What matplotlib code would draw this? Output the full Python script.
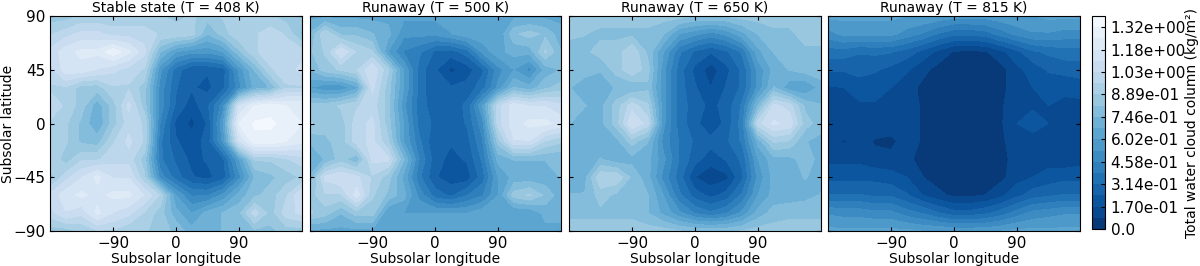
import numpy as np
import matplotlib
matplotlib.use("Agg")
from matplotlib import pyplot as plt

lon = [-180, -157.5, -135, -112.5, -90, -67.5, -45, -22.5, 0, 22.5, 45, 67.5, 90, 112.5, 135, 157.5, 180]
lat = [90, 75, 60, 45, 30, 15, 0, -15, -30, -45, -60, -75, -90]

# values, rows go from north to south
cloud_408 = [
    [.85, .85, .9, .9, .9, .9, .9, .9, .85, .9, .85, .9, .9, .9, .9, .85, .85],
    [.95, 1.0, 1.05, 1.05, 1.0, 1.0, 1.0, .95, .95, .92, .75, .85, .95, .95, 1.0, .95, .8],
    [1.05, 1.15, 1.2, 1.2, 1.3, 1.2, 1.05, .75, .6, .55, .55, .6, .8, .95, 1.0, 1.0, 1.0],
    [1.0, 1.15, 1.15, 1.1, 1.05, 1.0, .95, .55, .35, .25, .25, .28, .55, .75, .95, 1.0, 1.05],
    [.95, .95, .85, .85, .95, .95, .85, .5, .32, .25, .22, .3, .5, .7, .75, .95, .95],
    [1.0, .95, .85, .7, .85, 1.05, .85, .5, .3, .2, .3, .5, 1.1, 1.25, 1.3, 1.25, 1.25],
    [.95, .9, .8, .68, .85, 1.0, .95, .45, .22, .15, .25, .6, 1.25, 1.33, 1.33, 1.3, 1.25],
    [.95, .9, .8, .78, .95, 1.05, .95, .4, .25, .2, .27, .55, 1.1, 1.3, 1.3, 1.25, 1.2],
    [.95, .85, .95, .95, 1.0, 1.0, .85, .4, .3, .22, .25, .3, .6, .9, .9, .95, 1.0],
    [.85, 1.0, 1.1, 1.2, 1.1, 1.1, .9, .5, .35, .25, .22, .28, .5, .75, .8, .85, .9],
    [1.05, 1.15, 1.2, 1.15, 1.2, 1.2, 1.1, .95, .6, .45, .45, .55, .7, .8, .85, .95, 1.1],
    [1.0, 1.1, 1.05, 1.2, 1.1, 1.05, .95, .85, .7, .6, .7, .75, .8, 1.0, .85, 1.0, 1.05],
    [.85, .85, .9, .95, .95, .9, .9, .85, .8, .7, .7, .75, .8, .8, .8, .85, .85],
]
cloud_500 = [
    [.65, .65, .65, .65, .65, .65, .62, .62, .62, .62, .62, .65, .65, .65, .65, .65, .65],
    [.75, .95, .8, .8, .75, .7, .55, .55, .55, .6, .65, .65, .6, .8, .85, .8, .7],
    [.8, .9, 1.1, .95, .9, .6, .45, .4, .3, .28, .35, .55, .65, .7, .7, .9, .75],
    [.75, .85, .9, .95, 1.1, .9, .6, .35, .25, .15, .2, .3, .5, .6, .5, .7, .75],
    [.6, .55, .55, .65, 1.05, .85, .6, .35, .25, .25, .27, .35, .55, .75, .7, .8, .85],
    [.85, .85, .9, .95, 1.0, .85, .55, .35, .27, .27, .33, .6, 1.0, 1.15, 1.1, 1.1, 1.05],
    [.9, .85, .85, 1.0, 1.05, .85, .6, .35, .3, .27, .32, .5, 1.0, 1.15, 1.2, 1.2, 1.15],
    [.75, .8, .85, 1.0, 1.05, .9, .6, .4, .25, .25, .28, .45, .85, 1.1, 1.1, .95, .9],
    [.7, .75, .85, .75, 1.05, 1.05, .75, .45, .27, .22, .25, .4, .7, .75, .75, .75, .75],
    [.75, 1.05, 1.1, 1.05, .95, .85, .65, .4, .25, .2, .2, .35, .6, .7, .7, .7, .75],
    [.85, .95, .95, 1.15, .9, .8, .7, .5, .35, .3, .38, .45, .6, .85, .9, .8, .7],
    [.9, .85, .75, .85, .85, .6, .6, .6, .6, .6, .6, .65, .65, .6, .6, .7, .7],
    [.65, .65, .65, .65, .65, .65, .65, .65, .65, .65, .65, .65, .65, .65, .65, .65, .65],
]
cloud_650 = [
    [.85, .85, .85, .85, .85, .85, .85, .85, .82, .82, .82, .85, .85, .85, .85, .85, .85],
    [.85, .82, .8, .8, .8, .8, .75, .6, .55, .5, .55, .65, .75, .8, .8, .85, .85],
    [.75, .8, .85, .85, .95, .8, .6, .4, .3, .25, .3, .4, .65, .75, .8, .8, .8],
    [.75, .78, .75, .85, .95, .85, .55, .35, .22, .13, .22, .33, .55, .7, .75, .78, .8],
    [.75, .7, .72, .75, .75, .8, .55, .35, .25, .17, .25, .33, .55, .75, .62, .6, .7],
    [.8, .75, .72, .85, 1.0, .9, .55, .35, .28, .22, .27, .4, .75, 1.05, 1.0, .8, .75],
    [.75, .7, .72, .85, 1.1, 1.0, .55, .35, .27, .17, .27, .42, 1.0, 1.12, 1.08, .85, .78],
    [.72, .7, .7, .72, .85, .75, .5, .38, .3, .27, .3, .4, .7, .9, .88, .75, .72],
    [.72, .7, .75, .7, .72, .7, .55, .38, .27, .2, .25, .33, .6, .72, .72, .78, .72],
    [.7, .72, .95, .95, .8, .7, .5, .35, .17, .12, .15, .3, .55, .7, .72, .75, .72],
    [.75, .75, .85, .8, .78, .75, .6, .4, .28, .22, .27, .4, .6, .7, .7, .72, .75],
    [.8, .8, .8, .8, .8, .75, .65, .55, .45, .4, .45, .55, .7, .78, .8, .8, .8],
    [.85, .85, .85, .85, .85, .85, .85, .82, .8, .8, .8, .82, .85, .85, .85, .85, .85],
]
cloud_815 = [
    [.62, .62, .62, .62, .62, .6, .6, .58, .56, .56, .56, .58, .6, .6, .62, .62, .62],
    [.5, .55, .55, .55, .55, .5, .45, .38, .33, .33, .35, .42, .48, .52, .52, .5, .5],
    [.35, .35, .32, .33, .32, .28, .22, .15, .09, .08, .09, .15, .22, .3, .33, .35, .35],
    [.25, .25, .27, .25, .22, .18, .12, .07, .05, .05, .05, .07, .15, .2, .25, .27, .28],
    [.16, .17, .2, .2, .17, .13, .08, .05, .05, .05, .05, .08, .13, .17, .2, .18, .2],
    [.15, .15, .16, .16, .15, .13, .09, .05, .05, .05, .06, .09, .14, .16, .17, .16, .15],
    [.15, .16, .15, .14, .14, .13, .09, .05, .05, .05, .06, .09, .17, .2, .17, .15, .15],
    [.13, .09, .13, .09, .08, .13, .09, .05, .05, .05, .05, .09, .12, .14, .14, .13, .13],
    [.15, .15, .15, .12, .12, .11, .08, .05, .05, .05, .05, .08, .12, .14, .14, .12, .14],
    [.22, .22, .22, .22, .2, .17, .1, .06, .05, .05, .05, .08, .14, .17, .2, .22, .22],
    [.32, .32, .32, .3, .3, .25, .17, .12, .08, .08, .1, .15, .22, .28, .3, .32, .32],
    [.52, .5, .5, .48, .48, .42, .38, .32, .27, .27, .3, .35, .42, .48, .5, .52, .52],
    [.62, .62, .62, .62, .62, .62, .6, .6, .58, .58, .58, .6, .62, .62, .62, .62, .62],
]
panels = [cloud_408, cloud_500, cloud_650, cloud_815]
titles = ["Stable state (T = 408 K)", "Runaway (T = 500 K)", "Runaway (T = 650 K)", "Runaway (T = 815 K)"]

levels = [0, .098, .170, .242, .314, .386, .458, .530, .602, .674, .746, .818, .889, .961, 1.03, 1.106, 1.18, 1.25, 1.32, 1.392]
cbar_ticks = [0, .170, .314, .458, .602, .746, .889, 1.03, 1.18, 1.32]
cbar_labels = ["0.0", "1.70e-01", "3.14e-01", "4.58e-01", "6.02e-01", "7.46e-01", "8.89e-01", "1.03e+00", "1.18e+00", "1.32e+00"]

W, H = 1200, 266
plt.rcParams["font.size"] = 10

def box(x0, x1, y0, y1):
    # pixel box from the top left corner to figure fractions
    return [x0 / W, 1 - y1 / H, (x1 - x0) / W, (y1 - y0) / H]

fig = plt.figure(figsize=(W / 100, H / 100), dpi=100)
edges = [(50, 302), (309.5, 561), (569, 821), (828, 1080)]

for i in range(4):
    ax = fig.add_axes(box(edges[i][0], edges[i][1], 16, 231))
    cs = ax.contourf(lon, lat, np.array(panels[i]), levels=levels, cmap="Blues_r", vmin=0, vmax=1.392)
    ax.set_xlim(-180, 180)
    ax.set_ylim(-90, 90)
    ax.set_xticks([-90, 0, 90])
    ax.set_yticks([-90, -45, 0, 45, 90])
    ax.tick_params(direction="in", top=True, right=True, length=3, width=0.8, labelsize=11)
    ax.set_xlabel("Subsolar longitude", labelpad=0.5)
    ax.set_title(titles[i], fontsize=10, pad=3)
    if i == 0:
        ax.set_ylabel("Subsolar latitude")
        ax.yaxis.set_label_coords((15 - 50) / 252, 0.5)
    else:
        ax.set_yticklabels([])

cax = fig.add_axes(box(1092, 1105, 16, 229))
cb = fig.colorbar(cs, cax=cax)
cb.set_ticks(cbar_ticks)
cb.set_ticklabels(cbar_labels)
cb.ax.minorticks_off()
cb.ax.tick_params(direction="in", length=3, width=0.8, pad=4, labelsize=11)
cb.set_label("Total water cloud column (kg/m²)", fontsize=10)
cb.ax.yaxis.set_label_coords((1185 - 1092) / 13, 0.5)

fig.savefig("out.png", dpi=100)
